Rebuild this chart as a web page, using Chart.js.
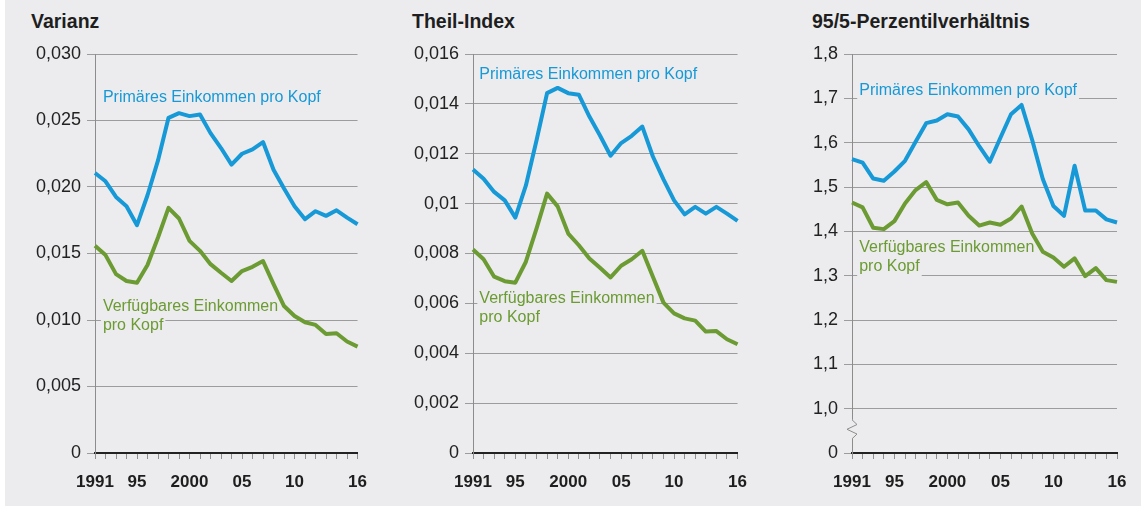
<!DOCTYPE html>
<html>
<head>
<meta charset="utf-8">
<script src="https://cdn.jsdelivr.net/npm/chart.js@4"></script>
<style>
  html, body { margin: 0; padding: 0; background: #fff; }
  body { width: 1141px; height: 507px; position: relative; overflow: hidden; font-family: "Liberation Sans", Arial, sans-serif; }
  #bg { position: absolute; left: 5px; top: 0; width: 1136px; height: 506px; background: #ececee; }
  canvas { position: absolute; top: 0; }
  .title { position: absolute; top: 11px; font-size: 19.5px; line-height: 20px; font-weight: bold; color: #1e1e1e; white-space: nowrap; }
</style>
</head>
<body>
<div id="bg"></div>
<div class="title" style="left:31px">Varianz</div>
<div class="title" style="left:412px">Theil-Index</div>
<div class="title" style="left:812px">95/5-Perzentilverhältnis</div>
<canvas id="c1" width="375" height="507" style="left:5px"></canvas>
<canvas id="c2" width="380" height="507" style="left:380px"></canvas>
<canvas id="c3" width="381" height="507" style="left:760px"></canvas>
<script>
// three small-multiple line charts: Varianz, Theil-Index, 95/5-Perzentilverhältnis

const years = ['1991','1992','1993','1994','1995','1996','1997','1998','1999','2000','2001','2002','2003',
  '2004','2005','2006','2007','2008','2009','2010','2011','2012','2013','2014','2015','2016'];
const xLabelYears = ['1991', '1995', '2000', '2005', '2010', '2016'];
const xLabelTexts = ['1991', '95', '2000', '05', '10', '16'];

const varPrimary = [0.02105, 0.02043, 0.01925, 0.01855, 0.01713, 0.01938, 0.0220, 0.0252, 0.02555, 0.02533,
  0.02545, 0.02405, 0.02293, 0.02168, 0.0225, 0.02283, 0.02338, 0.0213, 0.01988, 0.01855, 0.01758, 0.01818,
  0.01783, 0.01825, 0.0177, 0.0172];
const varDisposable = [0.01558, 0.01488, 0.01345, 0.01293, 0.0128, 0.01413, 0.0162, 0.01843, 0.01763, 0.01595,
  0.0152, 0.0142, 0.01355, 0.01293, 0.01368, 0.0140, 0.01443, 0.0127, 0.01105, 0.0103, 0.00983, 0.00963,
  0.00895, 0.0090, 0.00838, 0.0080];

const theilPrimary = [0.01137, 0.0110, 0.01047, 0.01013, 0.00944, 0.01073, 0.01253, 0.01443, 0.01464, 0.01443,
  0.01437, 0.01349, 0.01273, 0.01192, 0.01243, 0.01272, 0.01309, 0.01189, 0.01097, 0.01013, 0.00957, 0.00987,
  0.0096, 0.00987, 0.0096, 0.00931];
const theilDisposable = [0.00816, 0.00777, 0.00707, 0.00689, 0.00683, 0.00767, 0.0090, 0.0104, 0.00989, 0.0088,
  0.00833, 0.0078, 0.00743, 0.00704, 0.00751, 0.00777, 0.00811, 0.00707, 0.00603, 0.0056, 0.0054, 0.00531,
  0.00487, 0.00489, 0.00456, 0.00436];

const pctPrimary = [1.563, 1.555, 1.519, 1.514, 1.535, 1.559, 1.602, 1.644, 1.650, 1.664, 1.659, 1.630, 1.592,
  1.557, 1.611, 1.664, 1.685, 1.606, 1.518, 1.457, 1.435, 1.548, 1.447, 1.447, 1.427, 1.420];
const pctDisposable = [1.465, 1.454, 1.408, 1.405, 1.423, 1.463, 1.493, 1.511, 1.471, 1.461, 1.465, 1.435, 1.413,
  1.420, 1.415, 1.429, 1.456, 1.395, 1.354, 1.341, 1.320, 1.339, 1.299, 1.317, 1.290, 1.286];

const varTicks = [0, 0.005, 0.01, 0.015, 0.02, 0.025, 0.03];
const varTickLabels = ['0', '0,005', '0,010', '0,015', '0,020', '0,025', '0,030'];
const theilTicks = [0, 0.002, 0.004, 0.006, 0.008, 0.01, 0.012, 0.014, 0.016];
const theilTickLabels = ['0', '0,002', '0,004', '0,006', '0,008', '0,01', '0,012', '0,014', '0,016'];
// axis is broken: the lowest tick stands for 0
const pctTicks = [0.9, 1.0, 1.1, 1.2, 1.3, 1.4, 1.5, 1.6, 1.7, 1.8];
const pctTickLabels = ['0', '1,0', '1,1', '1,2', '1,3', '1,4', '1,5', '1,6', '1,7', '1,8'];

const primaryName = 'Primäres Einkommen pro Kopf';
const disposableLines = ['Verfügbares Einkommen', 'pro Kopf'];

const BG = '#ececee';
const BLUE = '#1699d6';
const GREEN = '#6b9b32';
const FONT = '"Liberation Sans", Arial, sans-serif';

// series names written into the plot, on a background box that hides the grid
const seriesLabels = {
  id: 'seriesLabels',
  beforeDatasetsDraw(chart, args, opts) {
    const { ctx, scales: { x, y } } = chart;
    ctx.save();
    ctx.font = '16px ' + FONT;
    ctx.textBaseline = 'alphabetic';
    (opts.items || []).forEach(it => {
      const px = x.getPixelForValue(it.x);
      const py = y.getPixelForValue(it.y);
      it.lines.forEach((line, i) => {
        const ly = py + i * 19;
        const w = ctx.measureText(line).width;
        ctx.fillStyle = BG;
        ctx.fillRect(px - 2, ly - 14, w + 4, 20);
        ctx.fillStyle = it.color;
        ctx.fillText(line, px, ly);
      });
    });
    ctx.restore();
  },
  afterDraw(chart, args, opts) {
    if (!opts.axisBreak) return;
    const { ctx, chartArea, scales: { y } } = chart;
    const ax = chartArea.left;
    const y1 = y.getPixelForValue(0.932), y2 = y.getPixelForValue(0.975);
    const h = y1 - y2;
    ctx.save();
    ctx.fillStyle = BG;
    ctx.fillRect(ax - 2, y2, 4, h);
    ctx.strokeStyle = '#8c8c8c';
    ctx.lineWidth = 1;
    ctx.beginPath();
    ctx.moveTo(ax, y2);
    ctx.lineTo(ax + 5, y2 + h * 0.25);
    ctx.lineTo(ax - 5, y2 + h * 0.5);
    ctx.lineTo(ax + 5, y2 + h * 0.75);
    ctx.lineTo(ax, y1);
    ctx.stroke();
    ctx.restore();
  }
};

function makeChart(id, primary, disposable, cfg) {
  return new Chart(document.getElementById(id).getContext('2d'), {
    type: 'line',
    data: {
      labels: years,
      datasets: [
        { data: primary, borderColor: BLUE },
        { data: disposable, borderColor: GREEN }
      ]
    },
    plugins: [seriesLabels],
    options: {
      responsive: false, animation: false, devicePixelRatio: 1,
      layout: { padding: { top: 54, right: cfg.padRight, bottom: 0, left: 0 } },
      elements: {
        line: { borderWidth: 4, tension: 0, borderJoinStyle: 'round', borderCapStyle: 'butt' },
        point: { radius: 0 }
      },
      scales: {
        x: {
          grid: { drawOnChartArea: false, drawTicks: true, tickLength: 6, color: '#8e8e8e', lineWidth: 1 },
          border: { display: true, color: '#222', width: 2 },
          ticks: {
            autoSkip: false, maxRotation: 0, padding: 13, color: '#1e1e1e',
            font: { family: FONT, size: 17, weight: 'bold' },
            callback: (v, i) => {
              const k = xLabelYears.indexOf(years[i]);
              return k >= 0 ? xLabelTexts[k] : '';
            }
          },
          afterFit: s => { s.height = 54; }
        },
        y: {
          min: cfg.ticks[0], max: cfg.ticks[cfg.ticks.length - 1],
          afterBuildTicks: s => { s.ticks = cfg.ticks.map(v => ({ value: v })); },
          grid: { color: '#9c9c9c', lineWidth: 1, tickLength: 8 },
          border: { display: true, color: '#8c8c8c', width: 1 },
          ticks: {
            padding: 6, color: '#222',
            font: { family: FONT, size: 18 },
            callback: (v, i) => cfg.tickLabels[i]
          },
          afterFit: s => { s.width = cfg.yWidth; }
        }
      },
      plugins: {
        legend: { display: false },
        tooltip: { enabled: false },
        seriesLabels: { items: cfg.labels, axisBreak: !!cfg.axisBreak }
      }
    }
  });
}

makeChart('c1', varPrimary, varDisposable, {
  ticks: varTicks, tickLabels: varTickLabels, yWidth: 90, padRight: 20,
  labels: [
    { lines: [primaryName], color: BLUE, x: 0.75, y: 0.0264 },
    { lines: disposableLines, color: GREEN, x: 0.75, y: 0.0107 }
  ]
});
makeChart('c2', theilPrimary, theilDisposable, {
  ticks: theilTicks, tickLabels: theilTickLabels, yWidth: 93, padRight: 22,
  labels: [
    { lines: [primaryName], color: BLUE, x: 0.6, y: 0.01499 },
    { lines: disposableLines, color: GREEN, x: 0.6, y: 0.00603 }
  ]
});
makeChart('c3', pctPrimary, pctDisposable, {
  ticks: pctTicks, tickLabels: pctTickLabels, yWidth: 92, padRight: 24, axisBreak: true,
  labels: [
    { lines: [primaryName], color: BLUE, x: 0.68, y: 1.7075 },
    { lines: disposableLines, color: GREEN, x: 0.68, y: 1.354 }
  ]
});
</script>
</body>
</html>
